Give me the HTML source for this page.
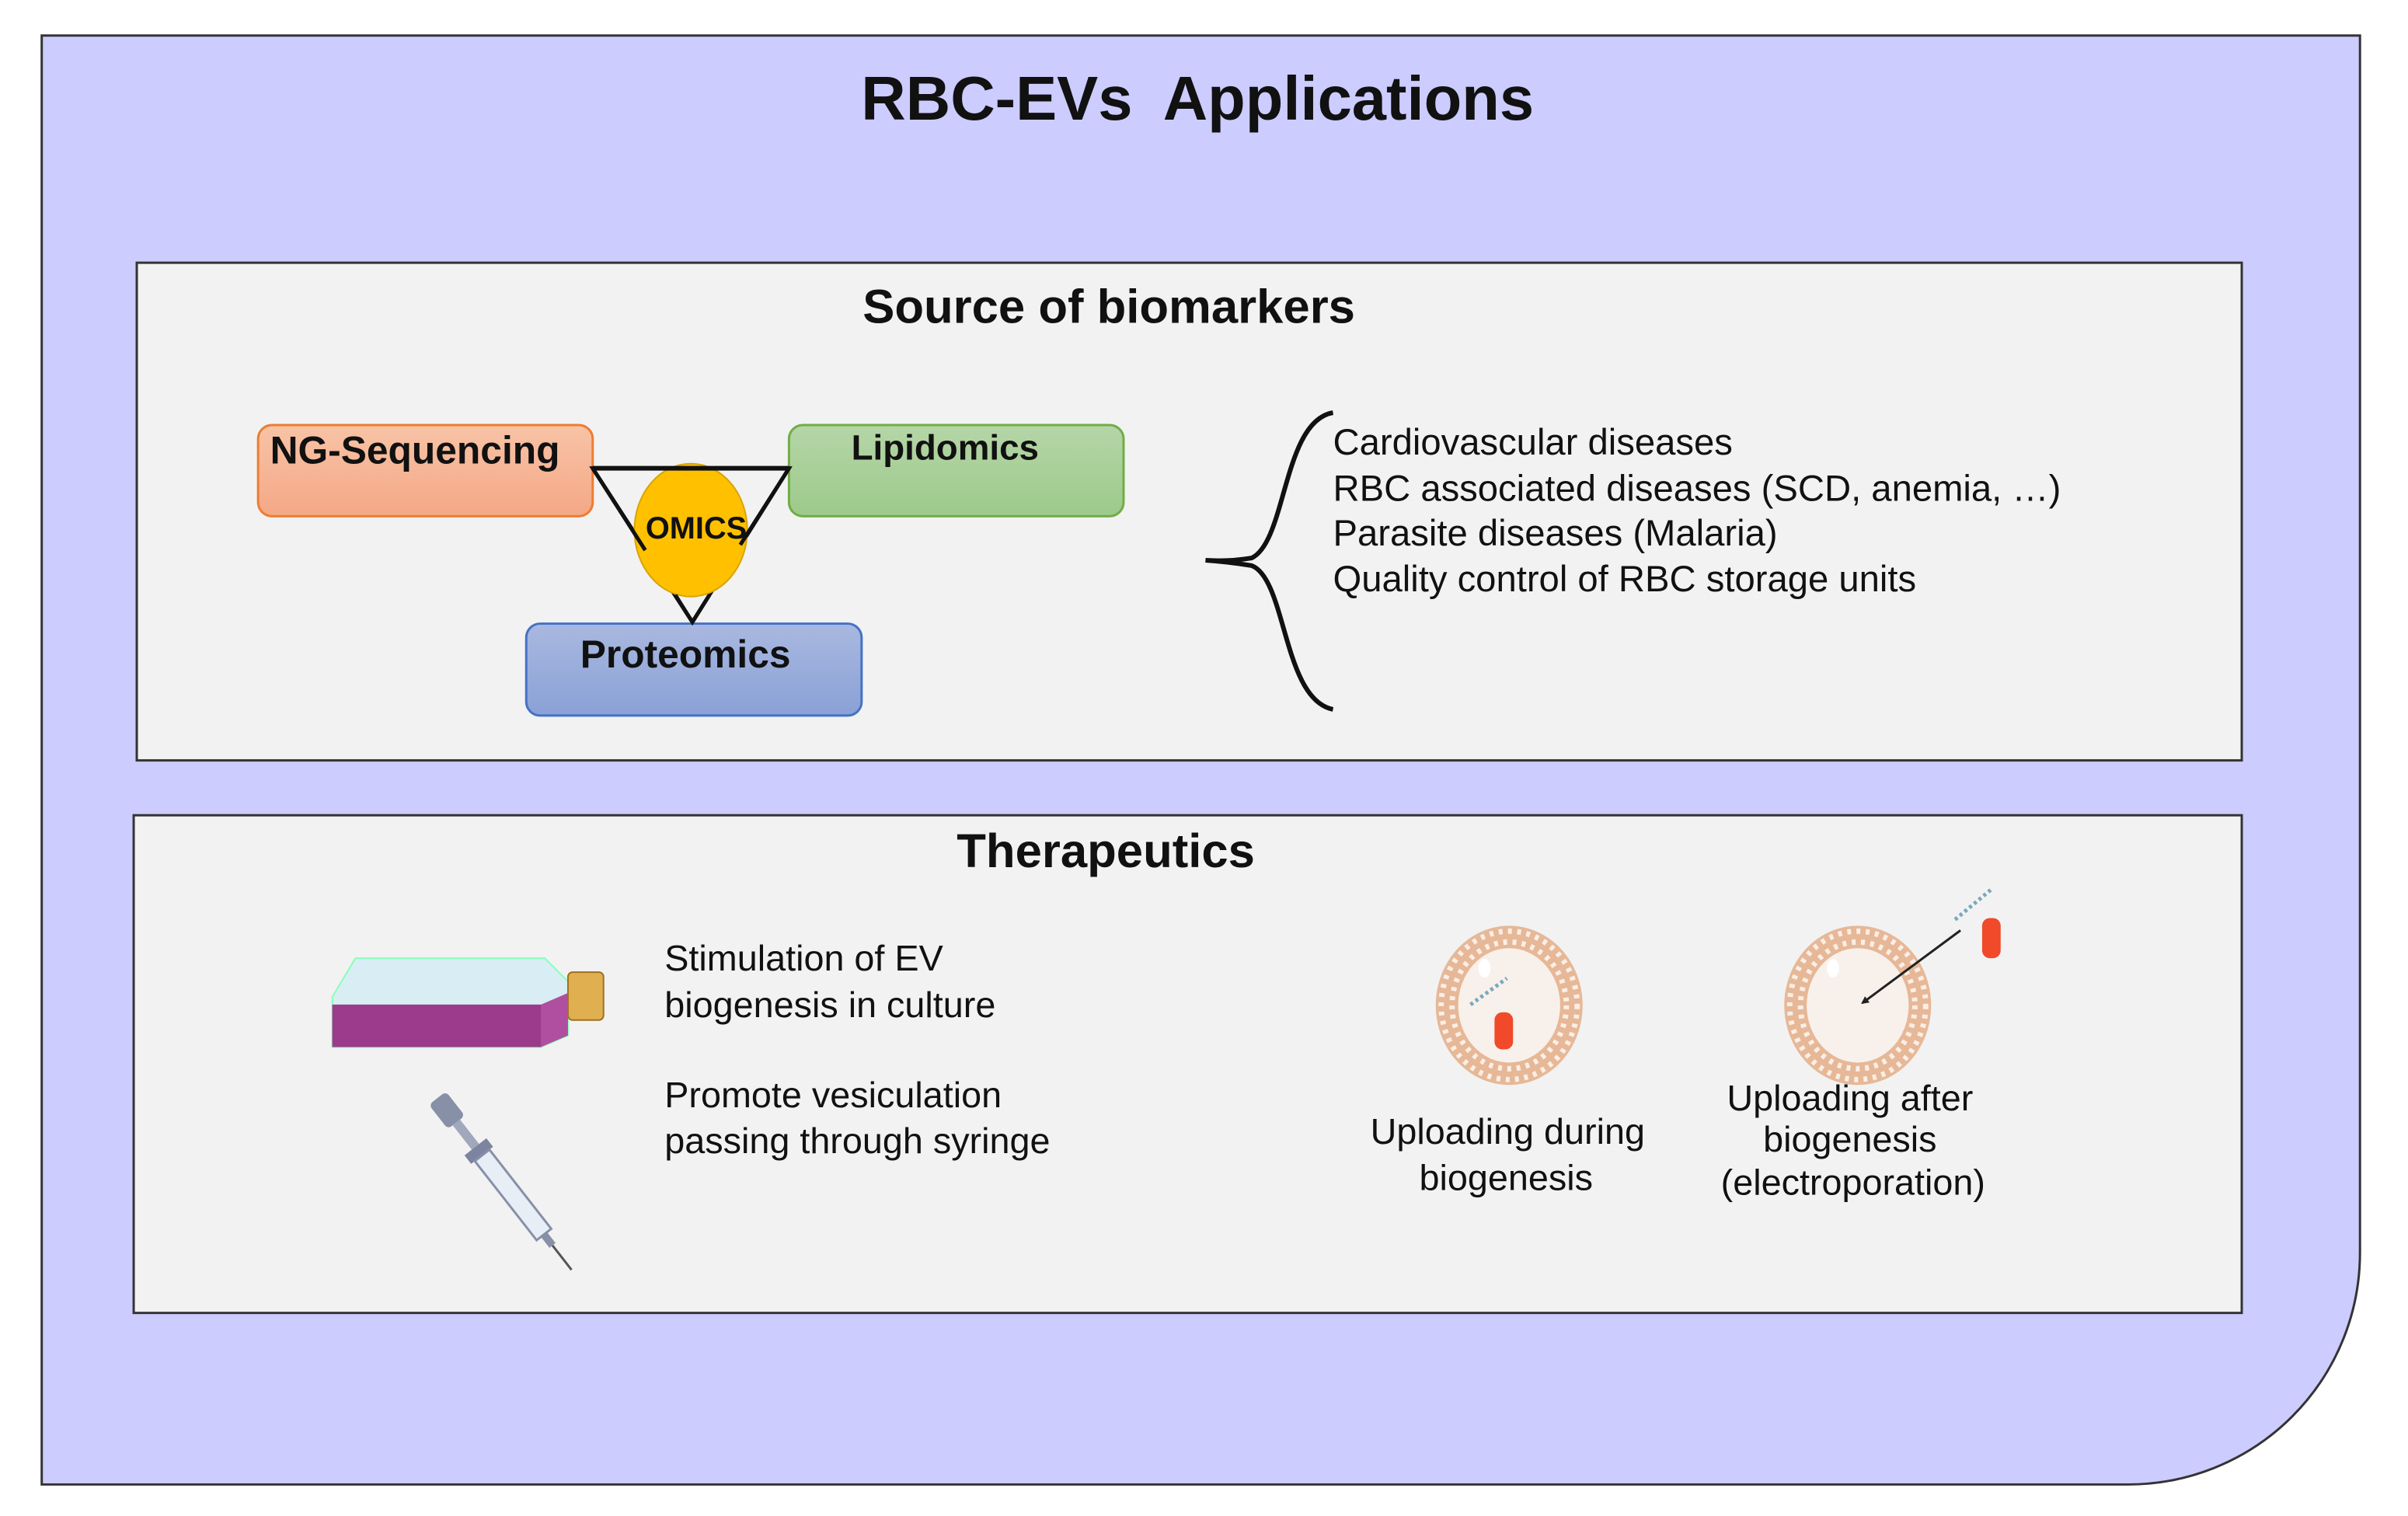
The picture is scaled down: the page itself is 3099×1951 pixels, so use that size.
<!DOCTYPE html>
<html><head><meta charset="utf-8"><style>
html,body{margin:0;padding:0;background:#fff;}
svg{display:block;}
text{font-family:"Liberation Sans",Arial,sans-serif;}
</style></head><body>
<svg width="3099" height="1951" viewBox="0 0 3099 1951" xmlns="http://www.w3.org/2000/svg">
<defs>
<linearGradient id="gO" x1="0" y1="0" x2="0" y2="1"><stop offset="0" stop-color="#f8c3a6"/><stop offset="1" stop-color="#f4a886"/></linearGradient>
<linearGradient id="gG" x1="0" y1="0" x2="0" y2="1"><stop offset="0" stop-color="#b5d6a7"/><stop offset="1" stop-color="#9dc98b"/></linearGradient>
<linearGradient id="gB" x1="0" y1="0" x2="0" y2="1"><stop offset="0" stop-color="#a9b8e0"/><stop offset="1" stop-color="#8aa1d6"/></linearGradient>
<marker id="ah" markerWidth="10" markerHeight="10" refX="8" refY="5" orient="auto" markerUnits="userSpaceOnUse" viewBox="0 0 10 10"><path d="M0,0 L10,5 L0,10 z" fill="#222"/></marker>
<g id="ves">
<ellipse cx="0" cy="0" rx="95" ry="103" fill="#e6b898"/>
<ellipse cx="0" cy="0" rx="88" ry="96" fill="none" stroke="#fbeee4" stroke-width="7" stroke-dasharray="5 7"/>
<ellipse cx="0" cy="0" rx="74" ry="82" fill="none" stroke="#fbeee4" stroke-width="7" stroke-dasharray="5 7"/>
<ellipse cx="0" cy="0" rx="66" ry="74" fill="#f8f0eb"/>
<ellipse cx="-32" cy="-48" rx="8" ry="12" fill="#fff"/>
</g>
</defs>
<g transform="scale(0.9945)">
<path d="M54,46 H3054 V1621 A300,300 0 0 1 2754,1921 H54 Z" fill="#ccccff" stroke="#333" stroke-width="3"/>
<text x="1290" y="155" font-size="80" font-weight="bold" text-anchor="middle" fill="#111">RBC-EVs</text>
<text x="1745" y="155" font-size="80" font-weight="bold" text-anchor="middle" fill="#111">Applications</text>

<rect x="177" y="340" width="2724" height="644" fill="#f2f2f2" stroke="#333" stroke-width="3"/>
<text x="1435" y="418" font-size="62" font-weight="bold" text-anchor="middle" fill="#111">Source of biomarkers</text>
<rect x="334" y="550" width="433" height="118" rx="18" fill="url(#gO)" stroke="#ed7d31" stroke-width="3"/>
<rect x="1021" y="550" width="433" height="118" rx="18" fill="url(#gG)" stroke="#70ad47" stroke-width="3"/>
<rect x="681" y="807" width="434" height="119" rx="18" fill="url(#gB)" stroke="#4472c4" stroke-width="3"/>
<text x="537" y="600" font-size="50" font-weight="bold" text-anchor="middle" fill="#111">NG-Sequencing</text>
<text x="1223" y="595" font-size="46" font-weight="bold" text-anchor="middle" fill="#111">Lipidomics</text>
<text x="887" y="864" font-size="50" font-weight="bold" text-anchor="middle" fill="#111">Proteomics</text>
<path d="M767,606 H1021 L896,805 Z" fill="none" stroke="#111" stroke-width="5"/>
<ellipse cx="894" cy="686" rx="73" ry="86" fill="#ffc000" stroke="#d9a400" stroke-width="2"/>
<path d="M767,606 H1021" stroke="#111" stroke-width="6"/>
<path d="M767,606 L835,712 M1021,606 L958,705 M896,805 L874,770 M896,805 L918,770" stroke="#111" stroke-width="5"/>
<text x="901" y="697" font-size="40" font-weight="bold" text-anchor="middle" fill="#111">OMICS</text>

<path d="M1725,534 C1660,545 1665,700 1620,722 Q1590,727 1560,725 Q1590,727 1620,732 C1665,750 1660,905 1725,918" fill="none" stroke="#111" stroke-width="6"/>
<g font-size="47.5" fill="#111">
<text x="1725" y="588">Cardiovascular diseases</text>
<text x="1725" y="648">RBC associated diseases (SCD, anemia, …)</text>
<text x="1725" y="706">Parasite diseases (Malaria)</text>
<text x="1725" y="765">Quality control of RBC storage units</text>
</g>

<rect x="173" y="1055" width="2728" height="644" fill="#f2f2f2" stroke="#333" stroke-width="3"/>
<text x="1431" y="1122" font-size="62" font-weight="bold" text-anchor="middle" fill="#111">Therapeutics</text>

<path d="M460,1240 L705,1240 L735,1270 L735,1340 L700,1355 L430,1355 L430,1290 Z" fill="#d8eef4" stroke="#8fb" stroke-width="2"/>
<path d="M430,1300 L700,1300 L735,1285 L735,1340 L700,1355 L430,1355 Z" fill="#b04fa0"/>
<path d="M430,1300 L700,1300 L700,1355 L430,1355 Z" fill="#9c3a8c"/>
<rect x="735" y="1258" width="46" height="62" rx="6" fill="#e0b050" stroke="#a07020" stroke-width="2"/>
<g transform="translate(566,1421) rotate(52)">
<rect x="0" y="-14" width="40" height="28" rx="6" fill="#8890a8"/>
<rect x="40" y="-6" width="40" height="12" fill="#a0a8bc"/>
<rect x="80" y="-18" width="14" height="36" fill="#7c84a0"/>
<rect x="94" y="-12" width="130" height="24" fill="#e8eef6" stroke="#8890a8" stroke-width="3"/>
<rect x="224" y="-5" width="18" height="10" fill="#8890a8"/>
<line x1="242" y1="0" x2="282" y2="0" stroke="#555" stroke-width="3"/>
</g>
<g font-size="47" fill="#111">
<text x="860" y="1256">Stimulation of EV</text>
<text x="860" y="1316">biogenesis in culture</text>
<text x="860" y="1433">Promote vesiculation</text>
<text x="860" y="1492">passing through syringe</text>
</g>

<use href="#ves" x="1953" y="1301"/>
<rect x="1934" y="1310" width="24" height="48" rx="10" fill="#f04a2a"/>
<line x1="1903" y1="1300" x2="1950" y2="1266" stroke="#7ab" stroke-width="5" stroke-dasharray="4 4"/>
<use href="#ves" x="2404" y="1301"/>
<line x1="2537" y1="1204" x2="2410" y2="1298" stroke="#222" stroke-width="3" marker-end="url(#ah)"/>
<rect x="2565" y="1188" width="24" height="52" rx="10" fill="#f04a2a"/>
<line x1="2530" y1="1190" x2="2578" y2="1150" stroke="#7ab" stroke-width="5" stroke-dasharray="4 4"/>
<g font-size="47" fill="#111" text-anchor="middle">
<text x="1951" y="1480">Uploading  during</text>
<text x="1949" y="1540">biogenesis</text>
<text x="2394" y="1437">Uploading after</text>
<text x="2394" y="1490">biogenesis</text>
<text x="2398" y="1546">(electroporation)</text>
</g>
</g>
</svg>
</body></html>
